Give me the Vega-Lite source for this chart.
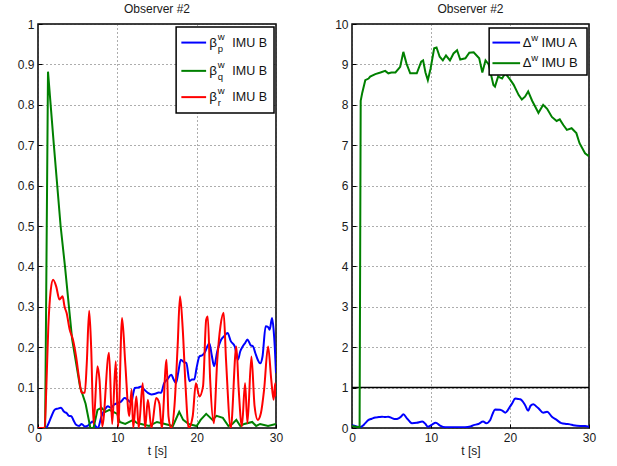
{
  "$schema": "https://vega.github.io/schema/vega-lite/v6.json",
  "background": "white",
  "padding": {"left": 16, "top": 2, "right": 5, "bottom": 5},
  "datasets": {
    "one": [{}],
    "bp": [
      {"t": 0, "v": 0}, {"t": 1.0, "v": 0}, {"t": 1.3, "v": 0.01}, {"t": 1.7, "v": 0.029}, {"t": 2.1, "v": 0.045},
      {"t": 2.5, "v": 0.048}, {"t": 2.9, "v": 0.05}, {"t": 3.3, "v": 0.04}, {"t": 3.6, "v": 0.037}, {"t": 3.9, "v": 0.03},
      {"t": 4.2, "v": 0.029}, {"t": 4.5, "v": 0.018}, {"t": 4.8, "v": 0.008}, {"t": 5.2, "v": 0.005}, {"t": 5.5, "v": 0.01},
      {"t": 5.9, "v": 0.004}, {"t": 6.3, "v": 0.006}, {"t": 6.6, "v": 0.012}, {"t": 6.9, "v": 0.016}, {"t": 7.2, "v": 0.006},
      {"t": 7.55, "v": 0}, {"t": 8.0, "v": 0.029}, {"t": 8.4, "v": 0.045}, {"t": 8.8, "v": 0.054}, {"t": 9.2, "v": 0.05},
      {"t": 9.6, "v": 0.058}, {"t": 10.07, "v": 0.062}, {"t": 10.5, "v": 0.066}, {"t": 10.9, "v": 0.074}, {"t": 11.3, "v": 0.07},
      {"t": 11.75, "v": 0.062}, {"t": 12.0, "v": 0.085}, {"t": 12.2, "v": 0.099}, {"t": 12.6, "v": 0.1}, {"t": 13.0, "v": 0.103},
      {"t": 13.4, "v": 0.095}, {"t": 13.85, "v": 0.087}, {"t": 14.3, "v": 0.083}, {"t": 14.8, "v": 0.085}, {"t": 15.2, "v": 0.088},
      {"t": 15.5, "v": 0.087}, {"t": 15.9, "v": 0.111}, {"t": 16.3, "v": 0.12}, {"t": 16.8, "v": 0.132}, {"t": 17.1, "v": 0.12},
      {"t": 17.4, "v": 0.111}, {"t": 17.7, "v": 0.14}, {"t": 18.0, "v": 0.169}, {"t": 18.4, "v": 0.163}, {"t": 18.7, "v": 0.161},
      {"t": 19.1, "v": 0.116}, {"t": 19.4, "v": 0.12}, {"t": 19.7, "v": 0.12}, {"t": 20.0, "v": 0.15}, {"t": 20.35, "v": 0.177},
      {"t": 20.7, "v": 0.18}, {"t": 21.0, "v": 0.186}, {"t": 21.3, "v": 0.2}, {"t": 21.6, "v": 0.21}, {"t": 21.9, "v": 0.18},
      {"t": 22.2, "v": 0.153}, {"t": 22.6, "v": 0.19}, {"t": 23.1, "v": 0.219}, {"t": 23.5, "v": 0.228}, {"t": 23.9, "v": 0.235},
      {"t": 24.3, "v": 0.215}, {"t": 24.8, "v": 0.202}, {"t": 25.2, "v": 0.169}, {"t": 25.5, "v": 0.19}, {"t": 25.8, "v": 0.202},
      {"t": 26.1, "v": 0.21}, {"t": 26.4, "v": 0.219}, {"t": 26.8, "v": 0.205}, {"t": 27.1, "v": 0.202}, {"t": 27.4, "v": 0.185},
      {"t": 27.7, "v": 0.169}, {"t": 28.0, "v": 0.16}, {"t": 28.3, "v": 0.177}, {"t": 28.7, "v": 0.252}, {"t": 29.0, "v": 0.25},
      {"t": 29.2, "v": 0.243}, {"t": 29.5, "v": 0.272}, {"t": 29.7, "v": 0.243}, {"t": 29.85, "v": 0.2}, {"t": 30, "v": 0.136}
    ],
    "bq": [
      {"t": 0, "v": 0}, {"t": 0.9, "v": 0}, {"t": 1.26, "v": 0.882}, {"t": 2.0, "v": 0.7}, {"t": 2.85, "v": 0.5},
      {"t": 3.4, "v": 0.4}, {"t": 4.3, "v": 0.22}, {"t": 5.3, "v": 0.102}, {"t": 6.0, "v": 0.06}, {"t": 6.6, "v": 0.0},
      {"t": 7.0, "v": 0.0}, {"t": 7.5, "v": 0.045}, {"t": 8.0, "v": 0.05}, {"t": 8.5, "v": 0.04}, {"t": 9.0, "v": 0.045},
      {"t": 9.5, "v": 0.04}, {"t": 10.0, "v": 0.035}, {"t": 10.3, "v": 0.015}, {"t": 11.0, "v": 0.01}, {"t": 11.5, "v": 0.015},
      {"t": 12.0, "v": 0.02}, {"t": 12.5, "v": 0.012}, {"t": 13.0, "v": 0.01}, {"t": 14.0, "v": 0.005}, {"t": 15.0, "v": 0.015},
      {"t": 16.0, "v": 0.01}, {"t": 17.0, "v": 0.005}, {"t": 17.8, "v": 0.04}, {"t": 18.3, "v": 0.02}, {"t": 19.0, "v": 0.01},
      {"t": 20.0, "v": 0.005}, {"t": 20.5, "v": 0.02}, {"t": 21.2, "v": 0.035}, {"t": 22.0, "v": 0.02}, {"t": 22.5, "v": 0.03},
      {"t": 23.3, "v": 0.025}, {"t": 24.0, "v": 0.005}, {"t": 24.5, "v": 0.01}, {"t": 25.0, "v": 0.02}, {"t": 25.5, "v": 0.005},
      {"t": 26.0, "v": 0.01}, {"t": 27.0, "v": 0.015}, {"t": 27.5, "v": 0.005}, {"t": 28.0, "v": 0.01}, {"t": 29.0, "v": 0.005},
      {"t": 30, "v": 0.01}
    ],
    "br": [
      {"t": 0, "v": 0}, {"t": 0.84, "v": 0}, {"t": 1.05, "v": 0.1}, {"t": 1.3, "v": 0.25}, {"t": 1.6, "v": 0.34},
      {"t": 1.9, "v": 0.367}, {"t": 2.3, "v": 0.35}, {"t": 2.7, "v": 0.318}, {"t": 3.1, "v": 0.326}, {"t": 3.35, "v": 0.3},
      {"t": 3.6, "v": 0.285}, {"t": 4.0, "v": 0.243}, {"t": 4.4, "v": 0.219}, {"t": 4.8, "v": 0.177}, {"t": 5.2, "v": 0.12},
      {"t": 5.5, "v": 0.087}, {"t": 5.9, "v": 0.087}, {"t": 6.15, "v": 0.161}, {"t": 6.45, "v": 0.29}, {"t": 6.7, "v": 0.2},
      {"t": 7.0, "v": 0.01}, {"t": 7.5, "v": 0.153}, {"t": 7.75, "v": 0.12}, {"t": 8.1, "v": 0.004}, {"t": 8.95, "v": 0.186},
      {"t": 9.35, "v": 0.01}, {"t": 9.8, "v": 0.165}, {"t": 10.1, "v": 0.004}, {"t": 10.6, "v": 0.272}, {"t": 11.0, "v": 0.16},
      {"t": 11.5, "v": 0.029}, {"t": 11.8, "v": 0.095}, {"t": 12.0, "v": 0.0}, {"t": 12.4, "v": 0.078}, {"t": 12.7, "v": 0.0},
      {"t": 13.2, "v": 0.111}, {"t": 13.5, "v": 0.0}, {"t": 13.85, "v": 0.07}, {"t": 14.3, "v": 0.0}, {"t": 14.9, "v": 0.074},
      {"t": 15.3, "v": 0.06}, {"t": 15.6, "v": 0.0}, {"t": 16.2, "v": 0.169}, {"t": 16.45, "v": 0.029}, {"t": 16.8, "v": 0.0},
      {"t": 17.2, "v": 0.054}, {"t": 17.6, "v": 0.202}, {"t": 17.9, "v": 0.326}, {"t": 18.25, "v": 0.243}, {"t": 18.6, "v": 0.103},
      {"t": 19.0, "v": 0.0}, {"t": 19.5, "v": 0.029}, {"t": 19.9, "v": 0.111}, {"t": 20.35, "v": 0.078}, {"t": 20.8, "v": 0.103},
      {"t": 21.2, "v": 0.268}, {"t": 21.4, "v": 0.276}, {"t": 21.7, "v": 0.12}, {"t": 22.15, "v": 0.012}, {"t": 22.6, "v": 0.169},
      {"t": 23.0, "v": 0.252}, {"t": 23.4, "v": 0.285}, {"t": 23.7, "v": 0.169}, {"t": 24.3, "v": 0.0}, {"t": 25.0, "v": 0.202},
      {"t": 25.3, "v": 0.095}, {"t": 25.7, "v": 0.004}, {"t": 26.1, "v": 0.111}, {"t": 26.4, "v": 0.012}, {"t": 26.9, "v": 0.177},
      {"t": 27.3, "v": 0.054}, {"t": 27.7, "v": 0.02}, {"t": 28.1, "v": 0.037}, {"t": 28.5, "v": 0.095}, {"t": 29.0, "v": 0.202},
      {"t": 29.4, "v": 0.12}, {"t": 29.7, "v": 0.07}, {"t": 29.9, "v": 0.111}, {"t": 30, "v": 0.078}
    ],
    "dA": [
      {"t": 0, "v": 0.07}, {"t": 0.6, "v": 0.04}, {"t": 1.0, "v": 0.02}, {"t": 1.4, "v": 0.06}, {"t": 1.68, "v": 0.12},
      {"t": 2.1, "v": 0.2}, {"t": 2.5, "v": 0.23}, {"t": 2.95, "v": 0.26}, {"t": 3.4, "v": 0.27}, {"t": 3.8, "v": 0.28},
      {"t": 4.2, "v": 0.27}, {"t": 4.6, "v": 0.28}, {"t": 5.0, "v": 0.25}, {"t": 5.5, "v": 0.22}, {"t": 5.9, "v": 0.24},
      {"t": 6.2, "v": 0.28}, {"t": 6.5, "v": 0.34}, {"t": 6.95, "v": 0.24}, {"t": 7.3, "v": 0.16}, {"t": 7.6, "v": 0.12},
      {"t": 8.2, "v": 0.13}, {"t": 8.9, "v": 0.16}, {"t": 9.3, "v": 0.1}, {"t": 9.6, "v": 0.03}, {"t": 10.1, "v": 0.08},
      {"t": 10.6, "v": 0.13}, {"t": 11.15, "v": 0.06}, {"t": 11.8, "v": 0.02}, {"t": 12.5, "v": 0.02}, {"t": 13.0, "v": 0.02},
      {"t": 14.3, "v": 0.02}, {"t": 15.0, "v": 0.04}, {"t": 15.4, "v": 0.07}, {"t": 16.0, "v": 0.1}, {"t": 16.6, "v": 0.16},
      {"t": 17.0, "v": 0.12}, {"t": 17.5, "v": 0.2}, {"t": 17.8, "v": 0.35}, {"t": 18.1, "v": 0.46}, {"t": 18.75, "v": 0.45},
      {"t": 19.1, "v": 0.42}, {"t": 19.4, "v": 0.38}, {"t": 20.0, "v": 0.53}, {"t": 20.3, "v": 0.62}, {"t": 20.65, "v": 0.73},
      {"t": 21.0, "v": 0.72}, {"t": 21.3, "v": 0.71}, {"t": 21.6, "v": 0.66}, {"t": 21.9, "v": 0.57}, {"t": 22.3, "v": 0.43},
      {"t": 22.6, "v": 0.55}, {"t": 22.96, "v": 0.59}, {"t": 23.3, "v": 0.54}, {"t": 23.6, "v": 0.49}, {"t": 24.2, "v": 0.38},
      {"t": 24.7, "v": 0.4}, {"t": 25.3, "v": 0.28}, {"t": 25.9, "v": 0.2}, {"t": 26.5, "v": 0.12}, {"t": 27.1, "v": 0.1},
      {"t": 27.6, "v": 0.09}, {"t": 28.0, "v": 0.07}, {"t": 28.9, "v": 0.05}, {"t": 29.5, "v": 0.05}, {"t": 30, "v": 0.03}
    ],
    "dB": [
      {"t": 0, "v": 0.05}, {"t": 0.5, "v": 0.03}, {"t": 0.9, "v": 0.02}, {"t": 0.96, "v": 0}, {"t": 1.1, "v": 8.1},
      {"t": 1.3, "v": 8.3}, {"t": 1.68, "v": 8.61}, {"t": 2.1, "v": 8.65}, {"t": 2.3, "v": 8.7}, {"t": 2.95, "v": 8.76},
      {"t": 3.6, "v": 8.8}, {"t": 4.2, "v": 8.84}, {"t": 4.6, "v": 8.78}, {"t": 5.0, "v": 8.8}, {"t": 5.5, "v": 8.8},
      {"t": 6.1, "v": 8.94}, {"t": 6.5, "v": 9.31}, {"t": 6.9, "v": 9.02}, {"t": 7.37, "v": 8.78}, {"t": 8.2, "v": 8.78},
      {"t": 8.76, "v": 9.07}, {"t": 9.0, "v": 9.1}, {"t": 9.3, "v": 8.8}, {"t": 9.6, "v": 8.61}, {"t": 9.95, "v": 8.9},
      {"t": 10.4, "v": 9.4}, {"t": 10.7, "v": 9.42}, {"t": 11.1, "v": 9.19}, {"t": 11.5, "v": 9.1}, {"t": 11.9, "v": 9.22},
      {"t": 12.4, "v": 9.1}, {"t": 12.85, "v": 9.27}, {"t": 13.3, "v": 9.35}, {"t": 13.7, "v": 9.12}, {"t": 14.35, "v": 9.15},
      {"t": 14.85, "v": 9.29}, {"t": 15.4, "v": 9.3}, {"t": 16.1, "v": 9.15}, {"t": 16.5, "v": 8.8}, {"t": 16.9, "v": 9.1},
      {"t": 17.3, "v": 9.0}, {"t": 17.9, "v": 8.49}, {"t": 18.1, "v": 8.45}, {"t": 18.5, "v": 8.7}, {"t": 19.0, "v": 8.65},
      {"t": 19.4, "v": 8.78}, {"t": 20.0, "v": 8.63}, {"t": 20.45, "v": 8.5}, {"t": 21.1, "v": 8.24}, {"t": 21.5, "v": 8.13},
      {"t": 21.9, "v": 8.2}, {"t": 22.3, "v": 8.33}, {"t": 22.8, "v": 8.1}, {"t": 23.2, "v": 7.95}, {"t": 23.6, "v": 7.8},
      {"t": 24.2, "v": 8.0}, {"t": 24.7, "v": 7.9}, {"t": 25.3, "v": 7.7}, {"t": 25.9, "v": 7.6}, {"t": 26.3, "v": 7.64},
      {"t": 26.75, "v": 7.5}, {"t": 27.2, "v": 7.38}, {"t": 27.8, "v": 7.42}, {"t": 28.4, "v": 7.3}, {"t": 28.8, "v": 7.05},
      {"t": 29.5, "v": 6.8}, {"t": 29.9, "v": 6.74}, {"t": 30, "v": 6.78}
    ]
  },
  "hconcat": [
    {
      "width": 238,
      "height": 404,
      "title": "Observer #2",
      "layer": [
        {
          "data": {"name": "bp"},
          "mark": {"type": "line", "color": "#0000ff", "strokeWidth": 2, "clip": true, "interpolate": "monotone"},
          "encoding": {
            "x": {"field": "t", "type": "quantitative", "scale": {"domain": [0, 30], "nice": false},
                  "axis": {"values": [0, 10, 20, 30], "title": "t [s]"}},
            "y": {"field": "v", "type": "quantitative", "scale": {"domain": [0, 1], "nice": false},
                  "axis": {"values": [0, 0.1, 0.2, 0.3, 0.4, 0.5, 0.6, 0.7, 0.8, 0.9, 1], "format": "~g", "title": null}}
          }
        },
        {
          "data": {"name": "bq"},
          "mark": {"type": "line", "color": "#008000", "strokeWidth": 2, "clip": true},
          "encoding": {"x": {"field": "t", "type": "quantitative"}, "y": {"field": "v", "type": "quantitative"}}
        },
        {
          "data": {"name": "br"},
          "mark": {"type": "line", "color": "#ff0000", "strokeWidth": 2, "clip": true, "interpolate": "monotone"},
          "encoding": {"x": {"field": "t", "type": "quantitative"}, "y": {"field": "v", "type": "quantitative"}}
        },
        {
          "data": {"name": "one"},
          "mark": {"type": "rect", "fill": "white", "stroke": "black", "strokeWidth": 1.5},
          "encoding": {"x": {"datum": 17.41}, "x2": {"datum": 29.75}, "y": {"datum": 0.9926}, "y2": {"datum": 0.78}}
        },
        {
          "data": {"name": "one"},
          "mark": {"type": "rule", "color": "#0000ff", "strokeWidth": 2},
          "encoding": {"x": {"datum": 18.07}, "x2": {"datum": 21.19}, "y": {"datum": 0.954}}
        },
        {
          "data": {"name": "one"},
          "mark": {"type": "rule", "color": "#008000", "strokeWidth": 2},
          "encoding": {"x": {"datum": 18.07}, "x2": {"datum": 21.19}, "y": {"datum": 0.884}}
        },
        {
          "data": {"name": "one"},
          "mark": {"type": "rule", "color": "#ff0000", "strokeWidth": 2},
          "encoding": {"x": {"datum": 18.07}, "x2": {"datum": 21.19}, "y": {"datum": 0.819}}
        },
        {
          "data": {"name": "one"},
          "mark": {"type": "text", "align": "left", "baseline": "middle", "fontSize": 13.5, "color": "#111111"},
          "encoding": {"x": {"datum": 21.6}, "y": {"datum": 0.954}, "text": {"value": "β"}}
        },
        {
          "data": {"name": "one"},
          "mark": {"type": "text", "align": "left", "baseline": "middle", "fontSize": 9.5, "dy": -6, "color": "#111111"},
          "encoding": {"x": {"datum": 22.65}, "y": {"datum": 0.954}, "text": {"value": "w"}}
        },
        {
          "data": {"name": "one"},
          "mark": {"type": "text", "align": "left", "baseline": "middle", "fontSize": 9.5, "dy": 6, "color": "#111111"},
          "encoding": {"x": {"datum": 22.65}, "y": {"datum": 0.954}, "text": {"value": "p"}}
        },
        {
          "data": {"name": "one"},
          "mark": {"type": "text", "align": "left", "baseline": "middle", "fontSize": 12.5, "color": "#111111"},
          "encoding": {"x": {"datum": 24.5}, "y": {"datum": 0.954}, "text": {"value": "IMU B"}}
        },
        {
          "data": {"name": "one"},
          "mark": {"type": "text", "align": "left", "baseline": "middle", "fontSize": 13.5, "color": "#111111"},
          "encoding": {"x": {"datum": 21.6}, "y": {"datum": 0.884}, "text": {"value": "β"}}
        },
        {
          "data": {"name": "one"},
          "mark": {"type": "text", "align": "left", "baseline": "middle", "fontSize": 9.5, "dy": -6, "color": "#111111"},
          "encoding": {"x": {"datum": 22.65}, "y": {"datum": 0.884}, "text": {"value": "w"}}
        },
        {
          "data": {"name": "one"},
          "mark": {"type": "text", "align": "left", "baseline": "middle", "fontSize": 9.5, "dy": 6, "color": "#111111"},
          "encoding": {"x": {"datum": 22.65}, "y": {"datum": 0.884}, "text": {"value": "q"}}
        },
        {
          "data": {"name": "one"},
          "mark": {"type": "text", "align": "left", "baseline": "middle", "fontSize": 12.5, "color": "#111111"},
          "encoding": {"x": {"datum": 24.5}, "y": {"datum": 0.884}, "text": {"value": "IMU B"}}
        },
        {
          "data": {"name": "one"},
          "mark": {"type": "text", "align": "left", "baseline": "middle", "fontSize": 13.5, "color": "#111111"},
          "encoding": {"x": {"datum": 21.6}, "y": {"datum": 0.819}, "text": {"value": "β"}}
        },
        {
          "data": {"name": "one"},
          "mark": {"type": "text", "align": "left", "baseline": "middle", "fontSize": 9.5, "dy": -6, "color": "#111111"},
          "encoding": {"x": {"datum": 22.65}, "y": {"datum": 0.819}, "text": {"value": "w"}}
        },
        {
          "data": {"name": "one"},
          "mark": {"type": "text", "align": "left", "baseline": "middle", "fontSize": 9.5, "dy": 6, "color": "#111111"},
          "encoding": {"x": {"datum": 22.65}, "y": {"datum": 0.819}, "text": {"value": "r"}}
        },
        {
          "data": {"name": "one"},
          "mark": {"type": "text", "align": "left", "baseline": "middle", "fontSize": 12.5, "color": "#111111"},
          "encoding": {"x": {"datum": 24.5}, "y": {"datum": 0.819}, "text": {"value": "IMU B"}}
        }
      ]
    },
    {
      "width": 237,
      "height": 404,
      "title": "Observer #2",
      "layer": [
        {
          "data": {"name": "one"},
          "mark": {"type": "rule", "color": "black", "strokeWidth": 1.5},
          "encoding": {"y": {"datum": 1}}
        },
        {
          "data": {"name": "dA"},
          "mark": {"type": "line", "color": "#0000ff", "strokeWidth": 2, "clip": true, "interpolate": "monotone"},
          "encoding": {
            "x": {"field": "t", "type": "quantitative", "scale": {"domain": [0, 30], "nice": false},
                  "axis": {"values": [0, 10, 20, 30], "title": "t [s]"}},
            "y": {"field": "v", "type": "quantitative", "scale": {"domain": [0, 10], "nice": false},
                  "axis": {"values": [0, 1, 2, 3, 4, 5, 6, 7, 8, 9, 10], "format": "d", "title": null}}
          }
        },
        {
          "data": {"name": "dB"},
          "mark": {"type": "line", "color": "#008000", "strokeWidth": 2, "clip": true},
          "encoding": {"x": {"field": "t", "type": "quantitative"}, "y": {"field": "v", "type": "quantitative"}}
        },
        {
          "data": {"name": "one"},
          "mark": {"type": "rect", "fill": "white", "stroke": "black", "strokeWidth": 1.5},
          "encoding": {"x": {"datum": 17.36}, "x2": {"datum": 29.75}, "y": {"datum": 9.9}, "y2": {"datum": 8.74}}
        },
        {
          "data": {"name": "one"},
          "mark": {"type": "rule", "color": "#0000ff", "strokeWidth": 2},
          "encoding": {"x": {"datum": 17.78}, "x2": {"datum": 21.28}, "y": {"datum": 9.54}}
        },
        {
          "data": {"name": "one"},
          "mark": {"type": "rule", "color": "#008000", "strokeWidth": 2},
          "encoding": {"x": {"datum": 17.78}, "x2": {"datum": 21.28}, "y": {"datum": 9.03}}
        },
        {
          "data": {"name": "one"},
          "mark": {"type": "text", "align": "left", "baseline": "middle", "fontSize": 13, "color": "#111111"},
          "encoding": {"x": {"datum": 21.6}, "y": {"datum": 9.54}, "text": {"value": "Δ"}}
        },
        {
          "data": {"name": "one"},
          "mark": {"type": "text", "align": "left", "baseline": "middle", "fontSize": 9.5, "dy": -5, "color": "#111111"},
          "encoding": {"x": {"datum": 22.7}, "y": {"datum": 9.54}, "text": {"value": "w"}}
        },
        {
          "data": {"name": "one"},
          "mark": {"type": "text", "align": "left", "baseline": "middle", "fontSize": 13, "color": "#111111"},
          "encoding": {"x": {"datum": 24.0}, "y": {"datum": 9.54}, "text": {"value": "IMU A"}}
        },
        {
          "data": {"name": "one"},
          "mark": {"type": "text", "align": "left", "baseline": "middle", "fontSize": 13, "color": "#111111"},
          "encoding": {"x": {"datum": 21.6}, "y": {"datum": 9.03}, "text": {"value": "Δ"}}
        },
        {
          "data": {"name": "one"},
          "mark": {"type": "text", "align": "left", "baseline": "middle", "fontSize": 9.5, "dy": -5, "color": "#111111"},
          "encoding": {"x": {"datum": 22.7}, "y": {"datum": 9.03}, "text": {"value": "w"}}
        },
        {
          "data": {"name": "one"},
          "mark": {"type": "text", "align": "left", "baseline": "middle", "fontSize": 13, "color": "#111111"},
          "encoding": {"x": {"datum": 24.0}, "y": {"datum": 9.03}, "text": {"value": "IMU B"}}
        }
      ]
    }
  ],
  "config": {
    "font": "Liberation Sans",
    "view": {"stroke": "black", "strokeWidth": 1.5},
    "concat": {"spacing": 49},
    "axis": {
      "domain": false,
      "ticks": true,
      "tickSize": -4,
      "tickColor": "black",
      "tickWidth": 1,
      "labelFlush": false,
      "labelFontSize": 12,
      "labelColor": "#1a1a1a",
      "labelPadding": 8,
      "grid": true,
      "gridColor": "#333333",
      "gridDash": [1, 3],
      "gridWidth": 1,
      "gridOpacity": 0.8,
      "titleFontSize": 12,
      "titleFontWeight": "normal",
      "titleColor": "#1a1a1a",
      "titlePadding": 2
    },
    "title": {"fontSize": 12, "fontWeight": "normal", "color": "#1a1a1a", "offset": 2}
  }
}
